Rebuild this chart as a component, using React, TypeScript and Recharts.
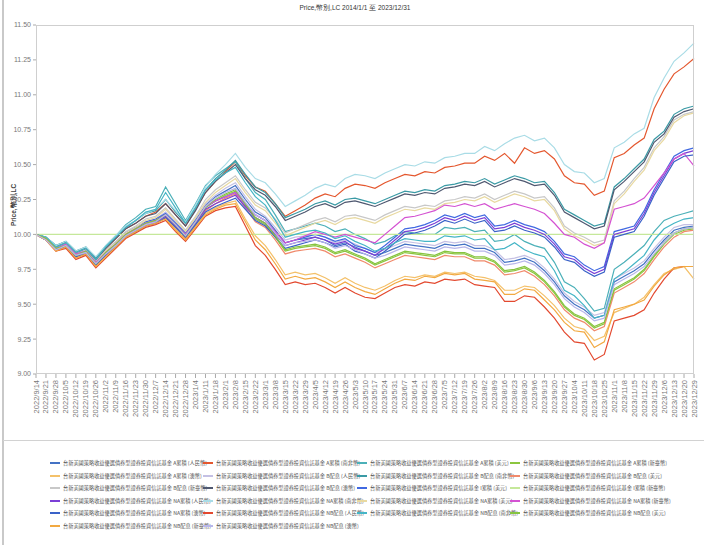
import React from 'react';
import { LineChart, Line, XAxis, YAxis } from 'recharts';

const fundName = '台新美國策略收益優選債券型證券投資信託基金';

const dates = [
  '2022/9/14', '2022/9/21', '2022/9/28', '2022/10/5', '2022/10/12', '2022/10/19', '2022/10/26', '2022/11/2', '2022/11/9', '2022/11/16',
  '2022/11/23', '2022/11/30', '2022/12/7', '2022/12/14', '2022/12/21', '2022/12/28', '2023/1/4', '2023/1/11', '2023/1/18', '2023/2/1',
  '2023/2/8', '2023/2/15', '2023/2/22', '2023/3/1', '2023/3/8', '2023/3/15', '2023/3/22', '2023/3/29', '2023/4/5', '2023/4/12',
  '2023/4/19', '2023/4/26', '2023/5/3', '2023/5/10', '2023/5/17', '2023/5/24', '2023/5/31', '2023/6/7', '2023/6/14', '2023/6/21',
  '2023/6/28', '2023/7/5', '2023/7/12', '2023/7/19', '2023/7/26', '2023/8/2', '2023/8/9', '2023/8/16', '2023/8/23', '2023/8/30',
  '2023/9/6', '2023/9/13', '2023/9/20', '2023/9/27', '2023/10/4', '2023/10/11', '2023/10/18', '2023/10/25', '2023/11/1', '2023/11/8',
  '2023/11/15', '2023/11/22', '2023/11/29', '2023/12/6', '2023/12/13', '2023/12/20', '2023/12/29',
];

const aCny = [
  10.00, 9.97, 9.90, 9.93, 9.86, 9.88, 9.80, 9.87, 9.93, 10.00,
  10.04, 10.08, 10.10, 10.15, 10.08, 10.00, 10.10, 10.21, 10.27, 10.31,
  10.35, 10.25, 10.16, 10.12, 10.03, 9.94, 9.96, 9.97, 9.98, 9.96,
  9.92, 9.94, 9.91, 9.88, 9.85, 9.87, 9.90, 9.93, 9.92, 9.91,
  9.90, 9.93, 9.92, 9.93, 9.90, 9.90, 9.87, 9.80, 9.81, 9.83,
  9.80, 9.74, 9.66, 9.56, 9.50, 9.46, 9.40, 9.42, 9.66, 9.70,
  9.74, 9.79, 9.88, 9.96, 10.03, 10.05, 10.06,
];
const aZar = [
  10.00, 9.97, 9.91, 9.94, 9.86, 9.90, 9.82, 9.90, 9.97, 10.04,
  10.08, 10.13, 10.16, 10.22, 10.14, 10.06, 10.18, 10.30, 10.38, 10.45,
  10.52, 10.42, 10.34, 10.31, 10.22, 10.13, 10.17, 10.21, 10.26, 10.29,
  10.27, 10.33, 10.36, 10.35, 10.33, 10.37, 10.40, 10.43, 10.42, 10.45,
  10.44, 10.48, 10.49, 10.51, 10.51, 10.56, 10.53, 10.58, 10.51, 10.62,
  10.58, 10.60, 10.54, 10.42, 10.37, 10.36, 10.28, 10.31, 10.55, 10.58,
  10.64, 10.69, 10.90, 11.04, 11.15, 11.20, 11.26,
];
const aUsd = [
  10.00, 9.98, 9.92, 9.95, 9.88, 9.90, 9.83, 9.92, 9.99, 10.07,
  10.12, 10.18, 10.20, 10.34, 10.22, 10.10, 10.22, 10.35, 10.42, 10.47,
  10.52, 10.40, 10.30, 10.25, 10.14, 10.02, 10.04, 10.06, 10.08, 10.06,
  10.02, 10.04, 10.00, 9.97, 9.93, 9.95, 9.99, 10.02, 10.01, 10.00,
  10.00, 10.05, 10.04, 10.05, 10.02, 10.03, 9.95, 9.96, 10.00, 9.95,
  9.92, 9.90, 9.80, 9.66, 9.62, 9.54, 9.45, 9.47, 9.75, 9.80,
  9.86, 9.92, 10.02, 10.10, 10.13, 10.15, 10.17,
];
const aTwd = [
  10.00, 9.96, 9.89, 9.92, 9.84, 9.87, 9.78, 9.86, 9.92, 9.99,
  10.03, 10.07, 10.09, 10.13, 10.06, 9.98, 10.08, 10.19, 10.24, 10.28,
  10.31, 10.21, 10.11, 10.07, 9.98, 9.88, 9.90, 9.91, 9.92, 9.90,
  9.86, 9.88, 9.85, 9.82, 9.78, 9.81, 9.84, 9.87, 9.86, 9.85,
  9.84, 9.87, 9.86, 9.86, 9.83, 9.83, 9.80, 9.73, 9.74, 9.76,
  9.72, 9.66, 9.58, 9.48, 9.42, 9.39, 9.33, 9.36, 9.60, 9.64,
  9.68, 9.74, 9.84, 9.93, 10.00, 10.03, 10.04,
];
const aAud = [
  10.00, 9.96, 9.89, 9.91, 9.84, 9.86, 9.78, 9.85, 9.91, 9.98,
  10.02, 10.06, 10.08, 10.12, 10.04, 9.97, 10.06, 10.15, 10.19, 10.22,
  10.24, 10.11, 9.99, 9.92, 9.82, 9.71, 9.73, 9.71, 9.72, 9.69,
  9.65, 9.69, 9.65, 9.62, 9.60, 9.63, 9.67, 9.70, 9.69, 9.71,
  9.70, 9.73, 9.72, 9.73, 9.70, 9.69, 9.67, 9.60, 9.60, 9.63,
  9.62, 9.56, 9.49, 9.40, 9.34, 9.32, 9.24, 9.27, 9.44, 9.47,
  9.50, 9.55, 9.64, 9.72, 9.75, 9.77, 9.68,
];
const bCny = [
  10.00, 9.97, 9.91, 9.93, 9.87, 9.89, 9.81, 9.88, 9.94, 10.01,
  10.05, 10.09, 10.11, 10.16, 10.09, 10.01, 10.11, 10.22, 10.28, 10.33,
  10.37, 10.27, 10.18, 10.13, 10.05, 9.96, 9.98, 9.99, 10.00, 9.98,
  9.94, 9.96, 9.93, 9.90, 9.87, 9.89, 9.92, 9.95, 9.94, 9.93,
  9.92, 9.95, 9.94, 9.95, 9.92, 9.92, 9.89, 9.82, 9.83, 9.85,
  9.82, 9.76, 9.68, 9.58, 9.52, 9.48, 9.42, 9.44, 9.68, 9.72,
  9.76, 9.81, 9.90, 9.98, 10.05, 10.07, 10.07,
];
const bZar = [
  10.00, 9.98, 9.92, 9.95, 9.88, 9.91, 9.83, 9.91, 9.98, 10.05,
  10.10, 10.15, 10.17, 10.25, 10.16, 10.08, 10.19, 10.32, 10.40, 10.46,
  10.53, 10.43, 10.34, 10.30, 10.22, 10.12, 10.15, 10.18, 10.22, 10.24,
  10.21, 10.25, 10.26, 10.24, 10.22, 10.25, 10.28, 10.31, 10.30, 10.32,
  10.31, 10.35, 10.36, 10.38, 10.37, 10.40, 10.36, 10.39, 10.42, 10.40,
  10.37, 10.38, 10.30, 10.18, 10.14, 10.10, 10.06, 10.08, 10.34, 10.40,
  10.47, 10.54, 10.68, 10.74, 10.86, 10.90, 10.92,
];
const bUsd = [
  10.00, 9.96, 9.88, 9.91, 9.83, 9.86, 9.77, 9.85, 9.91, 9.98,
  10.02, 10.06, 10.08, 10.12, 10.05, 9.97, 10.07, 10.17, 10.22, 10.26,
  10.29, 10.19, 10.09, 10.05, 9.96, 9.86, 9.88, 9.89, 9.90, 9.88,
  9.84, 9.86, 9.83, 9.80, 9.76, 9.79, 9.82, 9.85, 9.84, 9.83,
  9.82, 9.85, 9.84, 9.84, 9.81, 9.81, 9.78, 9.71, 9.72, 9.74,
  9.70, 9.64, 9.56, 9.46, 9.40, 9.37, 9.31, 9.34, 9.58, 9.62,
  9.66, 9.72, 9.82, 9.91, 9.98, 10.02, 10.03,
];
const bTwd = [
  10.00, 9.97, 9.91, 9.93, 9.86, 9.89, 9.81, 9.89, 9.95, 10.02,
  10.06, 10.11, 10.13, 10.19, 10.11, 10.03, 10.13, 10.25, 10.32, 10.37,
  10.42, 10.32, 10.23, 10.19, 10.11, 10.01, 10.04, 10.07, 10.10, 10.12,
  10.09, 10.13, 10.14, 10.12, 10.10, 10.14, 10.17, 10.20, 10.19, 10.21,
  10.20, 10.24, 10.25, 10.27, 10.26, 10.29, 10.25, 10.28, 10.31, 10.29,
  10.26, 10.27, 10.19, 10.06, 10.01, 9.98, 9.94, 9.96, 10.24, 10.31,
  10.40, 10.48, 10.62, 10.70, 10.82, 10.86, 10.88,
];
const bAud = [
  10.00, 9.98, 9.91, 9.94, 9.87, 9.90, 9.82, 9.90, 9.97, 10.04,
  10.08, 10.13, 10.15, 10.22, 10.14, 10.06, 10.17, 10.30, 10.38, 10.44,
  10.50, 10.40, 10.32, 10.28, 10.20, 10.10, 10.13, 10.16, 10.20, 10.22,
  10.19, 10.23, 10.24, 10.22, 10.20, 10.23, 10.26, 10.29, 10.28, 10.30,
  10.29, 10.33, 10.34, 10.36, 10.35, 10.38, 10.34, 10.37, 10.40, 10.38,
  10.35, 10.36, 10.28, 10.16, 10.12, 10.08, 10.04, 10.06, 10.32, 10.38,
  10.45, 10.52, 10.66, 10.72, 10.84, 10.88, 10.90,
];
const iUsd = [
  10.00, 9.97, 9.91, 9.93, 9.86, 9.88, 9.80, 9.87, 9.94, 10.01,
  10.05, 10.09, 10.11, 10.15, 10.08, 10.01, 10.10, 10.20, 10.24, 10.27,
  10.30, 10.22, 10.14, 10.10, 10.02, 9.94, 9.96, 9.98, 10.00, 9.98,
  9.95, 9.97, 9.92, 9.90, 9.87, 9.92, 9.98, 10.04, 10.05, 10.07,
  10.10, 10.14, 10.12, 10.15, 10.12, 10.14, 10.06, 10.07, 10.10, 10.07,
  10.05, 10.02, 9.95, 9.86, 9.84, 9.78, 9.74, 9.77, 10.02, 10.04,
  10.06, 10.17, 10.32, 10.44, 10.56, 10.60, 10.62,
];
const iTwd = [
  10, 10, 10, 10, 10, 10, 10, 10, 10, 10,
  10, 10, 10, 10, 10, 10, 10, 10, 10, 10,
  10, 10, 10, 10, 10, 10, 10, 10, 10, 10,
  10, 10, 10, 10, 10, 10, 10, 10, 10, 10,
  10, 10, 10, 10, 10, 10, 10, 10, 10, 10,
  10, 10, 10, 10, 10, 10, 10, 10, 10, 10,
  10, 10, 10, 10, 10, 10, 10,
];
const naCny = [
  10.00, 9.97, 9.90, 9.92, 9.85, 9.87, 9.79, 9.86, 9.92, 9.99,
  10.03, 10.07, 10.09, 10.13, 10.06, 9.99, 10.08, 10.18, 10.22, 10.25,
  10.28, 10.20, 10.12, 10.08, 10.00, 9.92, 9.94, 9.96, 9.98, 9.96,
  9.93, 9.95, 9.90, 9.88, 9.85, 9.90, 9.96, 10.02, 10.03, 10.05,
  10.08, 10.12, 10.10, 10.13, 10.10, 10.12, 10.04, 10.05, 10.08, 10.05,
  10.03, 10.00, 9.93, 9.84, 9.82, 9.76, 9.72, 9.75, 10.00, 10.02,
  10.04, 10.15, 10.30, 10.42, 10.54, 10.58, 10.60,
];
const naZar = [
  10.00, 9.98, 9.92, 9.95, 9.88, 9.91, 9.84, 9.92, 9.99, 10.06,
  10.10, 10.15, 10.18, 10.25, 10.17, 10.09, 10.21, 10.34, 10.43, 10.50,
  10.58, 10.48, 10.40, 10.37, 10.29, 10.20, 10.24, 10.28, 10.33, 10.36,
  10.34, 10.40, 10.43, 10.42, 10.40, 10.44, 10.47, 10.50, 10.49, 10.52,
  10.51, 10.55, 10.56, 10.58, 10.58, 10.63, 10.60, 10.65, 10.69, 10.71,
  10.67, 10.69, 10.62, 10.50, 10.45, 10.44, 10.37, 10.40, 10.62, 10.66,
  10.72, 10.76, 10.98, 11.12, 11.24, 11.30, 11.37,
];
const naUsd = [
  10.00, 9.97, 9.90, 9.93, 9.86, 9.88, 9.80, 9.88, 9.94, 10.01,
  10.05, 10.10, 10.12, 10.18, 10.10, 10.02, 10.12, 10.23, 10.30, 10.35,
  10.40, 10.30, 10.21, 10.17, 10.08, 9.99, 10.02, 10.05, 10.08, 10.10,
  10.07, 10.11, 10.12, 10.10, 10.08, 10.12, 10.15, 10.18, 10.17, 10.19,
  10.18, 10.22, 10.23, 10.25, 10.24, 10.27, 10.23, 10.26, 10.29, 10.27,
  10.24, 10.25, 10.17, 10.04, 9.99, 9.96, 9.92, 9.94, 10.22, 10.29,
  10.38, 10.46, 10.60, 10.68, 10.80, 10.85, 10.87,
];
const naTwd = [
  10.00, 9.97, 9.90, 9.93, 9.86, 9.88, 9.80, 9.87, 9.93, 10.00,
  10.04, 10.08, 10.10, 10.14, 10.07, 10.00, 10.09, 10.20, 10.24, 10.27,
  10.30, 10.22, 10.14, 10.10, 10.02, 9.94, 9.96, 9.99, 10.02, 10.00,
  9.98, 10.00, 9.98, 9.96, 9.94, 10.00, 10.06, 10.12, 10.13, 10.15,
  10.17, 10.21, 10.20, 10.22, 10.20, 10.22, 10.18, 10.20, 10.22, 10.20,
  10.18, 10.15, 10.08, 10.00, 9.98, 9.93, 9.90, 9.94, 10.18, 10.20,
  10.22, 10.26, 10.35, 10.44, 10.54, 10.58, 10.49,
];
const naAud = [
  10.00, 9.96, 9.89, 9.91, 9.84, 9.86, 9.78, 9.85, 9.91, 9.98,
  10.02, 10.06, 10.08, 10.12, 10.05, 9.98, 10.07, 10.16, 10.20, 10.23,
  10.26, 10.18, 10.10, 10.06, 9.98, 9.90, 9.92, 9.94, 9.96, 9.94,
  9.91, 9.93, 9.88, 9.86, 9.83, 9.88, 9.94, 10.00, 10.01, 10.03,
  10.06, 10.10, 10.08, 10.11, 10.08, 10.10, 10.02, 10.03, 10.06, 10.03,
  10.01, 9.98, 9.91, 9.82, 9.80, 9.74, 9.70, 9.73, 9.98, 10.00,
  10.02, 10.13, 10.28, 10.40, 10.52, 10.56, 10.57,
];
const nbCny = [
  10.00, 9.96, 9.88, 9.90, 9.82, 9.85, 9.76, 9.83, 9.90, 9.97,
  10.01, 10.05, 10.07, 10.10, 10.02, 9.95, 10.04, 10.13, 10.17, 10.19,
  10.20, 10.06, 9.92, 9.85, 9.75, 9.64, 9.66, 9.64, 9.65, 9.62,
  9.58, 9.62, 9.58, 9.55, 9.54, 9.58, 9.62, 9.64, 9.63, 9.66,
  9.65, 9.68, 9.67, 9.68, 9.64, 9.63, 9.62, 9.52, 9.52, 9.56,
  9.55, 9.48, 9.40, 9.30, 9.23, 9.22, 9.10, 9.14, 9.38, 9.40,
  9.42, 9.46, 9.58, 9.68, 9.76, 9.77, 9.77,
];
const nbZar = [
  10.00, 9.98, 9.91, 9.94, 9.87, 9.90, 9.82, 9.91, 9.98, 10.05,
  10.10, 10.16, 10.18, 10.30, 10.19, 10.08, 10.19, 10.32, 10.39, 10.44,
  10.48, 10.37, 10.27, 10.21, 10.10, 9.98, 10.00, 10.02, 10.03, 10.01,
  9.97, 9.99, 9.95, 9.92, 9.88, 9.90, 9.94, 9.97, 9.96, 9.95,
  9.95, 9.99, 9.98, 9.99, 9.96, 9.97, 9.89, 9.90, 9.94, 9.89,
  9.86, 9.84, 9.74, 9.60, 9.56, 9.49, 9.40, 9.42, 9.68, 9.73,
  9.79, 9.85, 9.96, 10.04, 10.08, 10.11, 10.12,
];
const nbUsd = [
  10.00, 9.97, 9.90, 9.92, 9.85, 9.88, 9.79, 9.87, 9.93, 10.00,
  10.04, 10.08, 10.10, 10.14, 10.07, 9.99, 10.09, 10.20, 10.25, 10.29,
  10.32, 10.22, 10.12, 10.08, 9.99, 9.89, 9.91, 9.92, 9.93, 9.91,
  9.87, 9.89, 9.86, 9.83, 9.79, 9.82, 9.85, 9.88, 9.87, 9.86,
  9.85, 9.88, 9.87, 9.87, 9.84, 9.84, 9.81, 9.74, 9.75, 9.77,
  9.73, 9.67, 9.59, 9.49, 9.43, 9.40, 9.34, 9.37, 9.61, 9.65,
  9.69, 9.75, 9.85, 9.94, 10.01, 10.04, 10.05,
];
const nbTwd = [
  10.00, 9.96, 9.88, 9.91, 9.83, 9.86, 9.77, 9.84, 9.91, 9.98,
  10.02, 10.06, 10.08, 10.11, 10.03, 9.96, 10.05, 10.14, 10.18, 10.21,
  10.22, 10.09, 9.96, 9.89, 9.79, 9.68, 9.70, 9.68, 9.69, 9.66,
  9.62, 9.66, 9.62, 9.59, 9.57, 9.61, 9.65, 9.68, 9.67, 9.70,
  9.69, 9.72, 9.71, 9.72, 9.68, 9.67, 9.66, 9.57, 9.57, 9.61,
  9.60, 9.53, 9.46, 9.37, 9.31, 9.30, 9.19, 9.23, 9.46, 9.48,
  9.50, 9.53, 9.63, 9.71, 9.76, 9.77, 9.77,
];
const nbAud = [
  10.00, 9.96, 9.89, 9.92, 9.85, 9.87, 9.79, 9.86, 9.92, 9.99,
  10.03, 10.07, 10.09, 10.14, 10.07, 9.99, 10.09, 10.20, 10.26, 10.30,
  10.33, 10.23, 10.14, 10.10, 10.01, 9.92, 9.94, 9.95, 9.96, 9.94,
  9.90, 9.92, 9.89, 9.86, 9.83, 9.85, 9.88, 9.91, 9.90, 9.89,
  9.88, 9.91, 9.90, 9.91, 9.88, 9.88, 9.85, 9.78, 9.79, 9.81,
  9.78, 9.72, 9.64, 9.54, 9.48, 9.44, 9.38, 9.40, 9.64, 9.68,
  9.72, 9.77, 9.86, 9.94, 10.01, 10.04, 10.05,
];

const yTicks = [9, 9.25, 9.5, 9.75, 10, 10.25, 10.5, 10.75, 11, 11.25, 11.5];

// legend order, 4 per row
const seriesList = [
  { key: 'aCny', label: 'A累積 (人民幣)', color: '#4472c4', values: aCny },
  { key: 'aZar', label: 'A累積 (南非幣)', color: '#e4572e', values: aZar },
  { key: 'aUsd', label: 'A累積 (美元)', color: '#4bb0b8', values: aUsd },
  { key: 'aTwd', label: 'A累積 (新臺幣)', color: '#8cc63f', values: aTwd },
  { key: 'aAud', label: 'A累積 (澳幣)', color: '#f4c16a', values: aAud },
  { key: 'bCny', label: 'B配息 (人民幣)', color: '#c4c0e4', values: bCny },
  { key: 'bZar', label: 'B配息 (南非幣)', color: '#3a9aa5', values: bZar },
  { key: 'bUsd', label: 'B配息 (美元)', color: '#f08a6c', values: bUsd },
  { key: 'bTwd', label: 'B配息 (新臺幣)', color: '#c8c8c8', values: bTwd },
  { key: 'bAud', label: 'B配息 (澳幣)', color: '#4f5870', values: bAud },
  { key: 'iUsd', label: 'I累積 (美元)', color: '#4169e1', values: iUsd },
  { key: 'iTwd', label: 'I累積 (新臺幣)', color: '#c5e89a', values: iTwd },
  { key: 'naCny', label: 'NA累積 (人民幣)', color: '#7b3fd6', values: naCny },
  { key: 'naZar', label: 'NA累積 (南非幣)', color: '#a9dce6', values: naZar },
  { key: 'naUsd', label: 'NA累積 (美元)', color: '#e8d9a0', values: naUsd },
  { key: 'naTwd', label: 'NA累積 (新臺幣)', color: '#d452d2', values: naTwd },
  { key: 'naAud', label: 'NA累積 (澳幣)', color: '#3a62c8', values: naAud },
  { key: 'nbCny', label: 'NB配息 (人民幣)', color: '#e3492f', values: nbCny },
  { key: 'nbZar', label: 'NB配息 (南非幣)', color: '#45b5c6', values: nbZar },
  { key: 'nbUsd', label: 'NB配息 (美元)', color: '#86c440', values: nbUsd },
  { key: 'nbTwd', label: 'NB配息 (新臺幣)', color: '#f2a941', values: nbTwd },
  { key: 'nbAud', label: 'NB配息 (澳幣)', color: '#b8b6ea', values: nbAud },
];

const chartData = dates.map((date, i) => {
  const row: Record<string, string | number> = { date };
  seriesList.forEach((s) => {
    row[s.key] = s.values[i];
  });
  return row;
});

const tickFont = '"Liberation Sans Narrow", "Liberation Sans", Arial, sans-serif';
const cjkFont = '"Noto Sans CJK TC", "Noto Sans CJK SC", sans-serif';

const XTick = (props: any) => {
  const { x, y, payload } = props;
  return (
    <text
      x={x}
      y={y}
      dy={2.5}
      transform={`rotate(-90 ${x} ${y})`}
      textAnchor="end"
      fontSize={7.5}
      fill="#777"
      fontFamily={tickFont}
    >
      {payload.value}
    </text>
  );
};

const legendCols = [50, 203, 357, 510];
const legendRowTop = 463;
const legendRowGap = 12.6;

const Legend = () => (
  <div style={{ position: 'absolute', left: 0, top: 0 }}>
    {seriesList.map((s, i) => {
      const col = i % 4;
      const row = Math.floor(i / 4);
      const top = legendRowTop + row * legendRowGap;
      return (
        <div
          key={s.key}
          style={{ position: 'absolute', left: legendCols[col], top: top - 4, height: 8, display: 'flex', alignItems: 'center', whiteSpace: 'nowrap' }}
        >
          <span style={{ display: 'inline-block', width: 10, height: 2, background: s.color, marginRight: 3 }} />
          <span style={{ fontSize: 5.2, color: '#555', fontFamily: cjkFont, lineHeight: '8px' }}>
            {fundName} {s.label}
          </span>
        </div>
      );
    })}
  </div>
);

export default function App() {
  return (
    <div style={{ position: 'absolute', left: 0, top: 0, width: 704, height: 545, background: '#fff', overflow: 'hidden' }}>
      {/* outer frame bits */}
      <div style={{ position: 'absolute', left: 2, top: 0, width: 2, height: 545, background: '#c9c9c9' }} />
      <div style={{ position: 'absolute', left: 3, top: 440, width: 701, height: 1, background: '#d2d2d2' }} />

      <div
        style={{ position: 'absolute', left: 0, top: 4, width: 710, textAlign: 'center', fontSize: 6.5, color: '#333', fontFamily: tickFont }}
      >
        Price,幣別,LC 2014/1/1 至 2023/12/31
      </div>

      <div
        style={{
          position: 'absolute',
          left: 14,
          top: 205,
          transform: 'translate(-50%, -50%) rotate(-90deg)',
          fontSize: 6.5,
          fontWeight: 'bold',
          color: '#444',
          fontFamily: tickFont,
          whiteSpace: 'nowrap',
        }}
      >
        Price,幣別,LC
      </div>

      <div style={{ position: 'absolute', left: 0, top: 0 }}>
        <LineChart width={704} height={545} data={chartData} margin={{ top: 25, right: 10, bottom: 111, left: 0 }}>
          <XAxis
            dataKey="date"
            interval={0}
            height={60}
            axisLine={false}
            tickLine={{ stroke: '#aaa' }}
            tickSize={4}
            tickMargin={2}
            tick={<XTick />}
          />
          <YAxis
            domain={[9, 11.5]}
            ticks={yTicks}
            width={36}
            axisLine={false}
            tickLine={{ stroke: '#aaa' }}
            tickSize={3}
            tickMargin={2}
            tickFormatter={(v: number) => v.toFixed(2)}
            tick={{ fontSize: 7, fill: '#777', fontFamily: tickFont }}
            allowDataOverflow
          />
          {seriesList.map((s) => (
            <Line
              key={s.key}
              type="linear"
              dataKey={s.key}
              stroke={s.color}
              strokeWidth={1.2}
              dot={false}
              isAnimationActive={false}
            />
          ))}
        </LineChart>
      </div>

      {/* plot frame */}
      <div style={{ position: 'absolute', left: 36, top: 25, width: 658, height: 349, border: '1px solid #cfcfcf', boxSizing: 'border-box', pointerEvents: 'none' }} />

      <Legend />
    </div>
  );
}
